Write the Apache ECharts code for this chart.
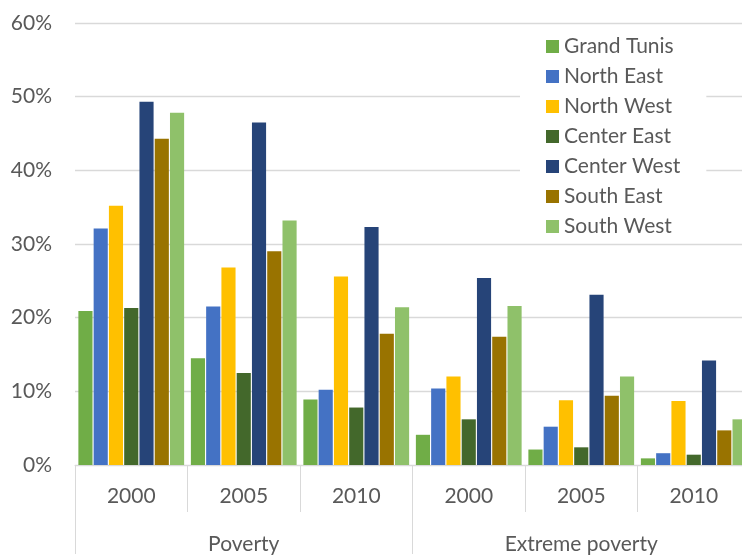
<!DOCTYPE html>
<html>
<head>
<meta charset="utf-8">
<title>Poverty rates by region</title>
<script src="https://cdn.jsdelivr.net/npm/echarts@6/dist/echarts.min.js"></script>
<style>
  html, body { margin: 0; padding: 0; background: #fff; overflow: hidden; }
  /* the plot runs a little past the right edge of the page, so the chart is wider than the window */
  #chart { width: 752px; height: 555px; }
</style>
</head>
<body>
<div id="chart"></div>
<script>
// Year labels (inner level) and indicator groups (outer level)
const years = ['2000', '2005', '2010', '2000', '2005', '2010'];
const groups = ['Poverty', 'Extreme poverty'];
const yTicks = [0, 10, 20, 30, 40, 50, 60];

// Rates in percent, one value per year/indicator
const grandTunis = [20.9, 14.5, 8.9, 4.1, 2.1, 0.9];
const northEast  = [32.1, 21.5, 10.2, 10.4, 5.2, 1.6];
const northWest  = [35.2, 26.8, 25.6, 12.0, 8.8, 8.7];
const centerEast = [21.3, 12.5, 7.8, 6.2, 2.4, 1.4];
const centerWest = [49.3, 46.5, 32.3, 25.4, 23.1, 14.2];
const southEast  = [44.3, 29.0, 17.8, 17.4, 9.4, 4.7];
const southWest  = [47.8, 33.2, 21.4, 21.6, 12.0, 6.2];

const regions = [
  { name: 'Grand Tunis', data: grandTunis, color: '#70AD47' },
  { name: 'North East',  data: northEast,  color: '#4472C4' },
  { name: 'North West',  data: northWest,  color: '#FFC000' },
  { name: 'Center East', data: centerEast, color: '#43682B' },
  { name: 'Center West', data: centerWest, color: '#264478' },
  { name: 'South East',  data: southEast,  color: '#997300' },
  { name: 'South West',  data: southWest,  color: '#8FC16A' }
];

const FONT = 'Lato, "Noto Sans", sans-serif';
const TEXT = '#595959';
const LINE = '#D9D9D9';

const chart = echarts.init(document.getElementById('chart'), null, { renderer: 'canvas' });

chart.setOption({
  animation: false,
  backgroundColor: '#fff',
  textStyle: { fontFamily: FONT },
  grid: { left: 75, width: 675, top: 23, height: 443, containLabel: false },
  legend: {
    orient: 'vertical',
    left: 520,
    top: 30,
    backgroundColor: '#fff',
    padding: [6, 26, 6, 26],
    itemWidth: 13,
    itemHeight: 13,
    itemGap: 9,
    icon: 'rect',
    textStyle: { fontFamily: FONT, fontSize: 21, color: TEXT, lineHeight: 21 },
    data: regions.map(r => r.name)
  },
  xAxis: [
    {
      type: 'category',
      data: years,
      position: 'bottom',
      axisLine: { show: true, lineStyle: { color: LINE, width: 1 } },
      axisTick: { show: true, interval: 0, length: 47, lineStyle: { color: LINE, width: 1 } },
      axisLabel: { interval: 0, margin: 21, fontFamily: FONT, fontSize: 21, color: TEXT }
    },
    {
      type: 'category',
      data: groups,
      position: 'bottom',
      axisLine: { show: false },
      axisTick: { show: true, interval: 0, length: 89, lineStyle: { color: LINE, width: 1 } },
      axisLabel: { interval: 0, margin: 69, fontFamily: FONT, fontSize: 21, color: TEXT }
    }
  ],
  yAxis: {
    type: 'value',
    min: yTicks[0],
    max: yTicks[yTicks.length - 1],
    interval: 10,
    axisLine: { show: false },
    axisTick: { show: false },
    axisLabel: { margin: 23, fontFamily: FONT, fontSize: 21, color: TEXT, formatter: '{value}%' },
    splitLine: { show: true, lineStyle: { color: LINE, width: 1.3 } }
  },
  series: regions.map(r => ({
    name: r.name,
    type: 'bar',
    xAxisIndex: 0,
    data: r.data,
    barGap: '8%',
    barCategoryGap: '6%',
    itemStyle: { color: r.color }
  }))
});
</script>
</body>
</html>
